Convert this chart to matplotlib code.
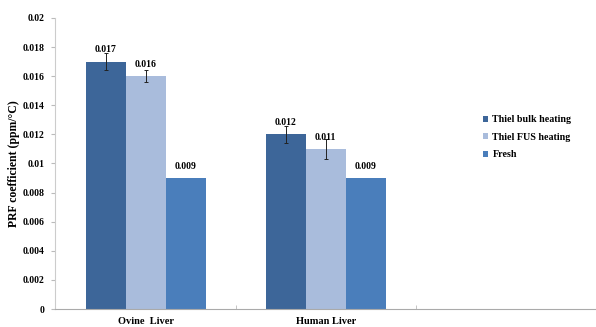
import matplotlib.pyplot as plt
import numpy as np

categories = ["Ovine  Liver", "Human Liver", ""]
series = ["Thiel bulk heating", "Thiel FUS heating", "Fresh"]
bulk = [0.017, 0.012]
fus = [0.016, 0.011]
fresh = [0.009, 0.009]
bulk_err = [0.0006, 0.0006]
fus_err = [0.0004, 0.0007]
labels_bulk = ["0.017", "0.012"]
labels_fus = ["0.016", "0.011"]
labels_fresh = ["0.009", "0.009"]

COLORS = ["#3D6699", "#A9BCDC", "#4A7EBB"]


def main():
    plt.rcParams['font.family'] = ['Liberation Serif', 'DejaVu Serif']
    plt.rcParams['font.weight'] = 'bold'

    fig = plt.figure(figsize=[5.96, 3.27], dpi=100)
    ax = fig.add_axes([0.093, 0.055, 0.907, 0.89])

    x = np.arange(len(bulk))
    w = 0.222
    ekw = dict(ecolor='#222222', elinewidth=0.7, capsize=1.5, capthick=0.7)
    b1 = ax.bar(x - w, bulk, w, color=COLORS[0], label=series[0], yerr=bulk_err, error_kw=ekw)
    b2 = ax.bar(x, fus, w, color=COLORS[1], label=series[1], yerr=fus_err, error_kw=ekw)
    b3 = ax.bar(x + w, fresh, w, color=COLORS[2], label=series[2])

    for bars, labs in [(b1, labels_bulk), (b2, labels_fus), (b3, labels_fresh)]:
        for r, t in zip(bars, labs):
            ax.text(r.get_x() + r.get_width() / 2, r.get_height() + 0.0005, t,
                    ha='center', va='bottom', fontsize=7, fontweight='bold')

    ax.set_xlim(-0.5, len(categories) - 0.5)
    ax.set_ylim(0, 0.02)
    ax.set_yticks(np.arange(0, 0.0201, 0.002))
    ax.set_yticklabels(["0"] + ["%g" % v for v in np.arange(0.002, 0.0201, 0.002)], fontsize=7)
    ax.set_xticks(range(len(categories)))
    ax.set_xticklabels(categories, fontsize=7.5)
    ax.set_xticks([0.5, 1.5], minor=True)
    ax.tick_params(axis='x', which='major', length=0, pad=6)
    ax.tick_params(axis='x', which='minor', length=3, color='#bbbbbb', direction='in')
    ax.tick_params(axis='y', length=3, color='#bbbbbb', pad=5)
    ax.set_ylabel("PRF coefficient (ppm/°C)", fontsize=8.5, fontweight='bold', labelpad=2)

    for s in ['top', 'right']:
        ax.spines[s].set_visible(False)
    ax.spines['left'].set_color('#cccccc')
    ax.spines['bottom'].set_color('#aaaaaa')

    ax.legend(loc='center left', bbox_to_anchor=(0.775, 0.59), frameon=False,
              fontsize=7.2, handlelength=0.5, handleheight=0.5, handletextpad=0.4,
              labelspacing=0.85)

    fig.savefig("out.png", dpi=100)


if __name__ == '__main__':
    main()
